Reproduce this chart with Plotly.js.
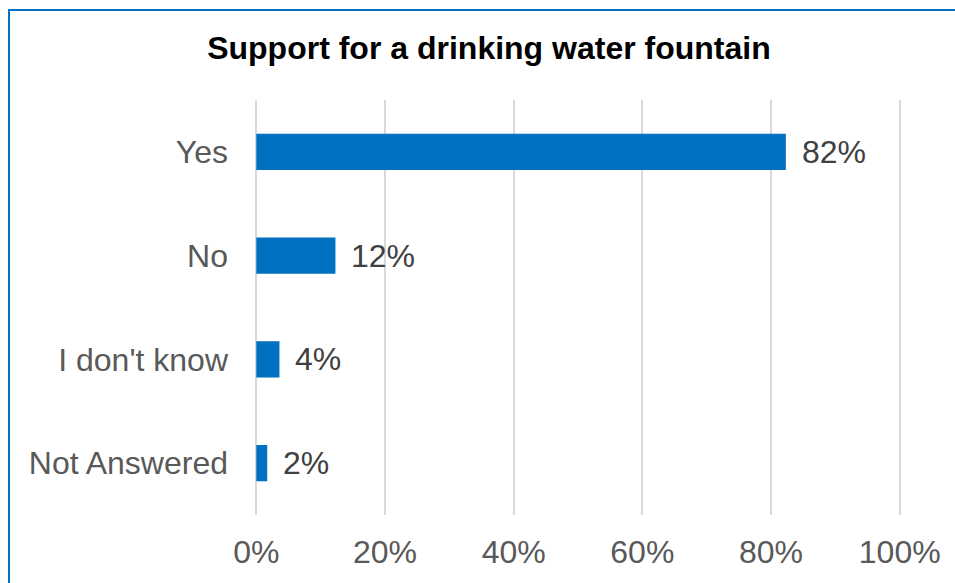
<!DOCTYPE html>
<html><head><meta charset="utf-8">
<script src="https://cdn.plot.ly/plotly-3.0.1.min.js"></script>
<style>
body{margin:0;background:#fff;}
#chart{position:absolute;left:0;top:0;width:955px;height:583px;}
#frame{position:absolute;left:8px;top:9px;width:1000px;height:1000px;border:2px solid #0070C0;pointer-events:none;}
</style></head>
<body>
<div id="chart"></div>
<div id="frame"></div>
<script>
const categories = ["Yes", "No", "I don't know", "Not Answered"];
const values = [82.3, 12.3, 3.6, 1.7];
const labels = ["82%", "12%", "4%", "2%"];
const tickVals = [0, 20, 40, 60, 80, 100];
const tickText = ["0%", "20%", "40%", "60%", "80%", "100%"];

const FONT = 'Liberation Sans, Arial, sans-serif';
const trace = {
  type: 'bar', orientation: 'h',
  y: categories, x: values,
  marker: {color: '#0070C0'},
  width: 0.35,
  hoverinfo: 'skip'
};
const annotations = categories.map((c, i) => ({
  x: values[i], y: c, xref: 'x', yref: 'y',
  text: labels[i], showarrow: false, xanchor: 'left', xshift: 14,
  font: {family: FONT, size: 32, color: '#404040'}
}));
const layout = {
  width: 955, height: 583,
  margin: {l: 255, r: 54, t: 100, b: 68},
  paper_bgcolor: '#fff', plot_bgcolor: '#fff',
  title: {text: '<b>Support for a drinking water fountain</b>', x: 0.512, xanchor: 'center', y: 0.918, yanchor: 'middle',
          font: {family: FONT, size: 32, color: '#000'}},
  xaxis: {range: [-0.2, 100.2], tickvals: tickVals, ticktext: tickText, showgrid: true, gridcolor: '#D9D9D9', gridwidth: 2,
          zeroline: true, zerolinecolor: '#D9D9D9', zerolinewidth: 2, showline: false, ticks: '', ticklabelstandoff: 15,
          tickfont: {family: FONT, size: 32, color: '#595959'}, fixedrange: true},
  yaxis: {autorange: 'reversed', showgrid: false, zeroline: false, showline: false, ticks: '', ticklabelstandoff: 26,
          tickfont: {family: FONT, size: 32, color: '#595959'}, fixedrange: true},
  annotations: annotations,
  showlegend: false
};
Plotly.newPlot('chart', [trace], layout, {displayModeBar: false, staticPlot: true});
</script>
</body></html>
